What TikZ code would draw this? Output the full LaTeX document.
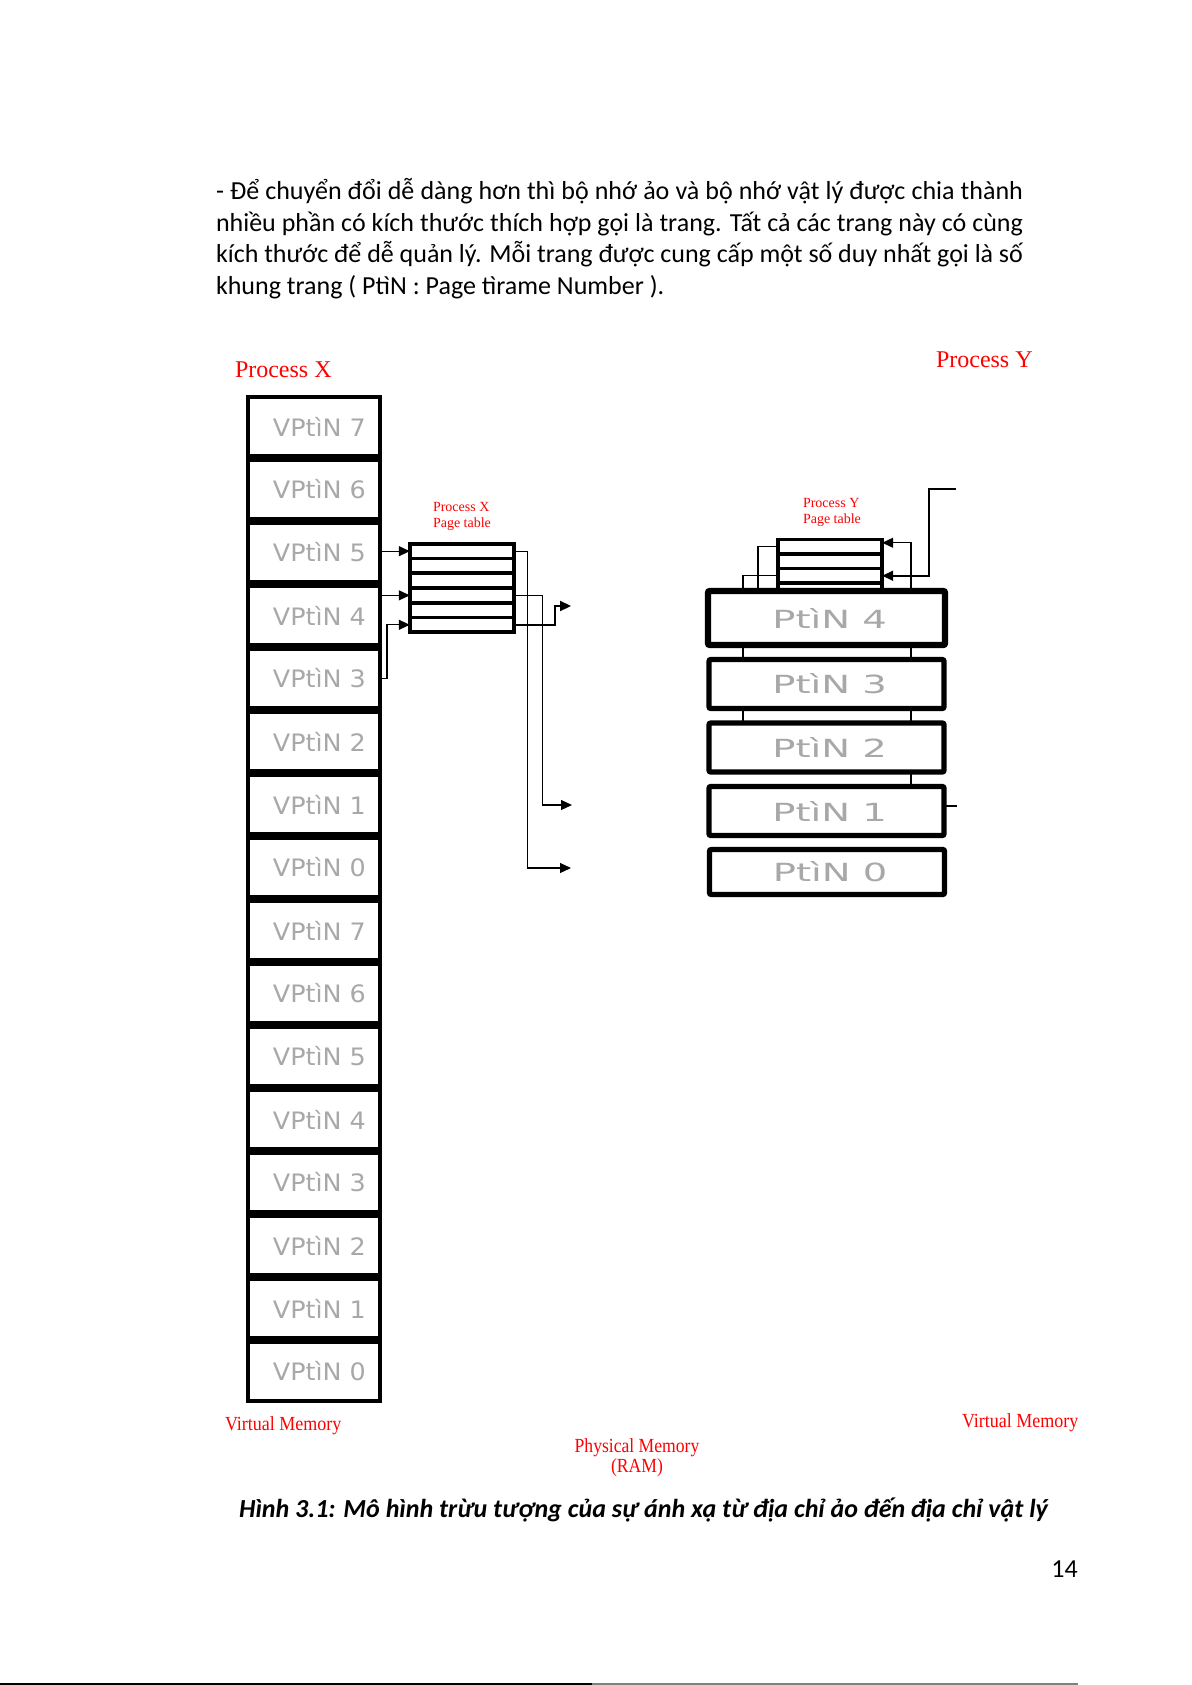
\documentclass[tikz,border=0pt]{standalone}
\usepackage{fontspec}
\setmainfont{Carlito}
\newfontfamily\timesfont{Liberation Serif}
\newfontfamily\dejavu{DejaVu Sans}
\usetikzlibrary{arrows.meta,backgrounds}
\definecolor{vmgray}{RGB}{168,168,168}
\definecolor{lblred}{RGB}{255,0,0}

\begin{document}
\begin{tikzpicture}[x=0.5pt, y=-0.5pt,
	every node/.style={inner sep=0pt, outer sep=0pt},
	vmbox/.style={draw, line width=2pt, minimum width=66pt, minimum height=29.5pt, text=vmgray, font=\dejavu\fontsize{12pt}{14pt}\selectfont},
	ptrow/.style={draw, line width=1.8pt, minimum width=52.2pt, minimum height=7.3pt},
	pfbox/.style={draw, fill=white, line width=2.7pt, rounded corners=1pt, minimum width=117.5pt, minimum height=24.5pt, text=vmgray, font=\dejavu\fontsize{12.5pt}{14pt}\selectfont},
	redlbl/.style={text=lblred, font=\timesfont\fontsize{10pt}{10pt}\selectfont},
	link/.style={line width=0.6pt},
	arr/.style={link, -{Triangle[length=5.5pt,width=5pt]}}]
	\useasboundingbox (0,0) rectangle (1191,1685);
	% text of the page
	\node[anchor=base west, text width=403.5pt, align=justify, font=\fontsize{13pt}{15.87pt}\selectfont] (intro) at (216,199.5)
		{- Để chuyển đổi dễ dàng hơn thì bộ nhớ ảo và bộ nhớ vật lý được chia thành\linebreak
		nhiều phần có kích thước thích hợp gọi là trang. Tất cả các trang này có cùng\linebreak
		kích thước để dễ quản lý. Mỗi trang được cung cấp một số duy nhất gọi là số\linebreak
		khung trang ( PtìN : Page tìrame Number ).};
	\node[anchor=base, font=\fontsize{13pt}{15pt}\selectfont\bfseries\itshape] (caption) at (643.5,1517)
		{Hình 3.1: Mô hình trừu tượng của sự ánh xạ từ địa chỉ ảo đến địa chỉ vật lý};
	\node[anchor=base, font=\fontsize{13pt}{15pt}\selectfont] (pagenum) at (1064.5,1577) {14};
	\draw[line width=1pt] (0,1683.5) -- (592,1683.5);
	\draw[gray, line width=1pt] (592,1683.5) -- (1078,1683.5);
	% virtual memory of process X
	\foreach \i in {0,...,15} {
		\pgfmathtruncatemacro{\pg}{mod(15-\i,8)}
		\node[vmbox] (vm\i) at (314,{426.5+63*\i}) {\hspace*{5.4pt}\scalebox{1.06}[1]{VPtìN \pg}};
	}
	% page tables
	\foreach \r in {1,...,6} {\node[ptrow] (ptx\r) at (462,{543.8+14.73*(\r-0.5)}) {};}
	\foreach \r in {1,...,4} {\node[ptrow] (pty\r) at (830,{539.5+14.5*(\r-0.5)}) {};}
	% physical memory
	\node[pfbox, line width=3.2pt, minimum width=118.5pt, minimum height=27pt] (pf4) at (826.5,618) {\hspace*{3.2pt}\scalebox{1.54}[1]{PtìN 4}};
	\foreach \k/\yy in {3/684, 2/747.5, 1/811} {
		\node[pfbox] (pf\k) at (826.5,\yy) {\hspace*{3.2pt}\scalebox{1.54}[1]{PtìN \k}};
	}
	\node[pfbox, minimum height=22.5pt] (pf0) at (827,872) {\hspace*{3.2pt}\scalebox{1.54}[1]{PtìN 0}};
	% labels
	\node[redlbl, font=\timesfont\fontsize{12pt}{14pt}\selectfont, anchor=base west] (procx) at (235,377) {Process X};
	\node[redlbl, font=\timesfont\fontsize{12pt}{14pt}\selectfont, anchor=base west] (procy) at (936,367) {Process Y};
	\node[redlbl, font=\timesfont\fontsize{7pt}{8pt}\selectfont, anchor=base west, align=left] (ptxlbl) at (433,527) {Process X\\Page table};
	\node[redlbl, font=\timesfont\fontsize{7pt}{8pt}\selectfont, anchor=base west, align=left] (ptylbl) at (803,523) {Process Y\\Page table};
	\node[redlbl, anchor=base west] (vmx) at (225,1430) {\scalebox{0.9}[1]{Virtual Memory}};
	\node[redlbl, anchor=base west] (vmy) at (962,1427) {\scalebox{0.9}[1]{Virtual Memory}};
	\node[redlbl, anchor=base, align=center] (ram) at (637,1472.5) {\scalebox{0.88}[1]{Physical Memory}\\\scalebox{0.88}[1]{(RAM)}};
	% connectors
	\coordinate (fx4) at (571,606);
	\coordinate (fx1) at (572,805);
	\coordinate (fx0) at (571,868);
	\coordinate (fy) at (956,489);
	\begin{scope}[on background layer]
		\draw[arr] (vm2.east |- ptx1) -- (ptx1.west);
		\draw[arr] (vm3.east |- ptx4) -- (ptx4.west);
		\draw[arr] (vm4.east) -- ++(7,0) |- (ptx6.west);
		\draw[arr] (ptx1.east) -- ++(13,0) |- (fx0);
		\draw[arr] (ptx4.east) -- ++(28,0) |- (fx1);
		\draw[arr, line width=1.1pt] (ptx6.east) -- ++(41,0) |- (fx4);
		\draw[link] (pty1.west) -| ([xshift=25pt]pf4.north west);
		\draw[link] (pty3.west) -| ([xshift=17pt]pf2.west);
		\draw[arr] ([xshift=-16.5pt]pf1.east) |- ([yshift=2pt]pty1.east);
		\draw[link] ([yshift=2.5pt]pf1.east) -- ++(13,0);
		\draw[arr, line width=0.9pt] (fy) -- ++(-27,0) |- (pty3.east);
	\end{scope}
\end{tikzpicture}
\end{document}
